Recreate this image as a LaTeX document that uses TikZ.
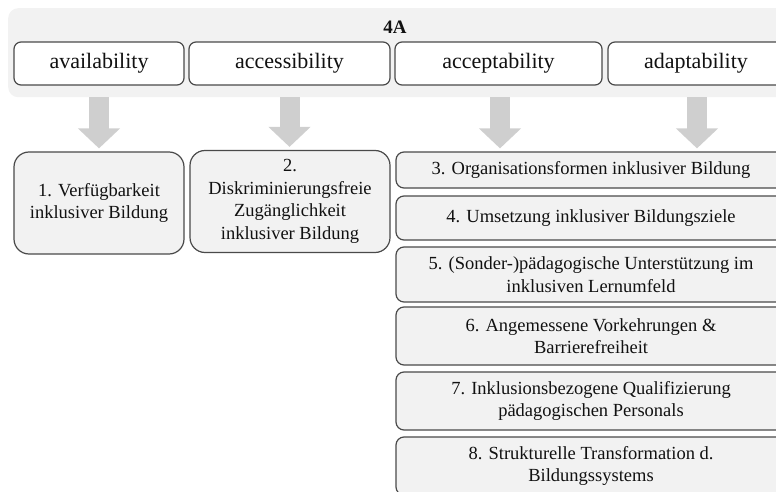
\documentclass[tikz,border=0pt]{standalone}
\usepackage{fontspec}
\setmainfont{Liberation Serif}
\usetikzlibrary{arrows.meta}
\definecolor{bandgray}{HTML}{F2F2F2}
\definecolor{boxgray}{HTML}{F2F2F2}
\definecolor{arrowgray}{HTML}{CFCFCF}
\definecolor{edgegray}{HTML}{4A4A4A}
\definecolor{txt}{HTML}{111111}
\tikzset{
  topbox/.style={draw=edgegray, line width=1.2pt, fill=white, rounded corners=7pt,
    inner sep=0pt, minimum height=43pt, text=txt,
    font=\fontsize{22}{26}\selectfont},
  lowbox/.style={draw=edgegray, line width=1.2pt, fill=boxgray, rounded corners=8pt,
    inner sep=0pt, align=center, text=txt,
    font=\fontsize{18.5}{22.5}\selectfont},
  bigbox/.style={lowbox, rounded corners=15pt, minimum height=102pt},
  rightbox/.style={lowbox, minimum width=390pt},
  bigarrow/.style={draw=arrowgray, line width=20pt,
    -{Triangle[width=41pt,length=20pt]}, shorten >=3pt},
}
\begin{document}
\begin{tikzpicture}[x=1pt,y=1pt]
\useasboundingbox (0,0) rectangle (776,-492);
\clip (0,0) rectangle (776,-492);
% band
\node[fill=bandgray, rounded corners=10pt, inner sep=0pt, minimum width=800pt,
  minimum height=89pt, anchor=north west] (band) at (8,-8) {};
\node[text=txt, font=\bfseries\fontsize{19}{22}\selectfont] (title) at (395,-27) {4A};
% top boxes
\node[topbox, minimum width=170pt] (avail) at (99,-63.5) {availability};
\node[topbox, minimum width=201pt] (access) at (289.5,-63.5) {accessibility};
\node[topbox, minimum width=207pt] (accept) at (498.5,-63.5) {acceptability};
\node[topbox, minimum width=176pt] (adapt) at (696,-63.5) {adaptability};
% lower boxes
\node[bigbox, minimum width=170pt] (l1) at (99,-203) {1. Verfügbarkeit\\inklusiver Bildung};
\node[bigbox, minimum width=200pt] (l2) at (290,-201.5) {2.\\Diskriminierungsfreie\\Zugänglichkeit\\inklusiver Bildung};
\node[rightbox, minimum height=36pt] (l3) at (591,-170) {3. Organisationsformen inklusiver Bildung};
\node[rightbox, minimum height=44pt] (l4) at (591,-218) {4. Umsetzung inklusiver Bildungsziele};
\node[rightbox, minimum height=55pt] (l5) at (591,-274.5) {5. (Sonder-)pädagogische Unterstützung im\\inklusiven Lernumfeld};
\node[rightbox, minimum height=58pt] (l6) at (591,-336) {6. Angemessene Vorkehrungen \&\\Barrierefreiheit};
\node[rightbox, minimum height=58pt] (l7) at (591,-401) {7. Inklusionsbezogene Qualifizierung\\pädagogischen Personals};
\node[rightbox, minimum height=58pt] (l8) at (591,-466) {8. Strukturelle Transformation d.\\Bildungssystems};
% arrows
\draw[bigarrow] (avail.south |- band.south) -- (avail.south |- l1.north);
\draw[bigarrow] (access.south |- band.south) -- (access.south |- l2.north);
\draw[bigarrow] ([xshift=1.5pt]accept.south |- band.south) -- ([xshift=1.5pt]accept.south |- l3.north);
\draw[bigarrow] ([xshift=1pt]adapt.south |- band.south) -- ([xshift=1pt]adapt.south |- l3.north);
\end{tikzpicture}
\end{document}
